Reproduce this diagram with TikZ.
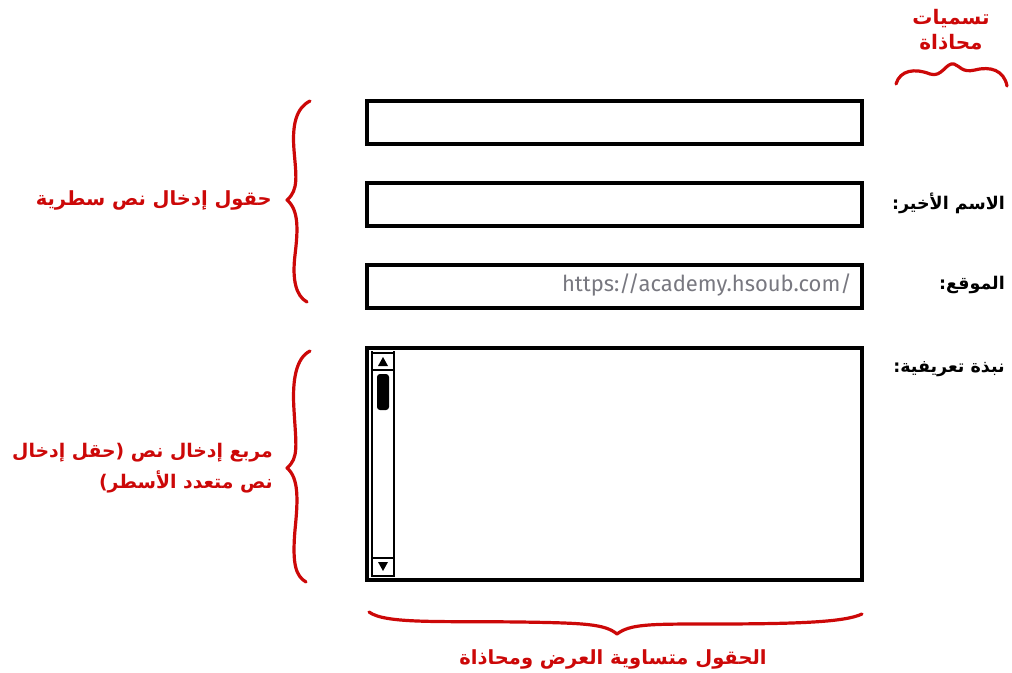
\documentclass[tikz,border=0pt]{standalone}
\usepackage{fontspec}
\setmainfont{DejaVu Sans}
\newfontfamily\ar[Script=Arabic]{DejaVu Sans}
\newfontfamily\urlfont{Fira Sans}
\TeXXeTstate=1
\definecolor{redc}{RGB}{204,8,8}
\definecolor{urlgray}{RGB}{120,120,128}
\tikzset{
  field/.style={draw=black, line width=3.2pt, rectangle, minimum width=495pt, minimum height=43pt, inner sep=0pt},
  lab/.style={anchor=east, text=black, font=\ar\bfseries\fontsize{17.5}{22}\selectfont, inner sep=0pt},
  redlab/.style={text=redc, font=\ar\bfseries\fontsize{19.5}{31}\selectfont, inner sep=0pt},
  brace/.style={draw=redc, line width=3.2pt, line cap=round, line join=round},
  sb/.style={draw=black, line width=1.6pt}
}
\begin{document}
\begin{tikzpicture}[x=1pt,y=-1pt]
\useasboundingbox (0,0) rectangle (1012,672);
% fields
\node[field] (first) at (614.5,122.5) {};
\node[field] (last) at (614.5,204.5) {};
\node[field] (site) at (614.5,286.5) {};
\node[field, minimum height=232pt] (bio) at (614.5,464) {};
% url placeholder
\node[anchor=east, text=urlgray, font=\urlfont\fontsize{22}{24}\selectfont, inner sep=0pt] (url) at (852,285) {https://academy.hsoub.com/};
% scrollbar
\draw[sb] (372,351) -- (372,577);
\draw[sb] (394,351) -- (394,577);
\draw[sb] (372,353) rectangle (394,370);
\draw[sb] (372,558) rectangle (394,576);
\fill (378,366) -- (388,366) -- (383,357) -- cycle;
\fill (378,562) -- (388,562) -- (383,571) -- cycle;
\fill[rounded corners=3pt] (377,374) rectangle (389,410);
% black labels
\node[lab] (llast) at (1005,203) {\beginR الاسم الأخير:\endR};
\node[lab] (lsite) at (1005,285) {\beginR الموقع:\endR};
\node[lab] (lbio) at (1005,369) {\beginR نبذة تعريفية:\endR};
% top right header
\node[redlab, align=center, font=\ar\bfseries\fontsize{20}{25}\selectfont] (hdr) at (951,30) {\beginR تسميات\endR\\\beginR محاذاة\endR};
\draw[brace] (896,84) .. controls (900,70) and (915,68) .. (930,74) .. controls (942,78) and (946,62) .. (954,64) .. controls (960,66) and (962,73) .. (975,70) .. controls (990,66) and (1004,70) .. (1007,86);
% left brace 1
\draw[brace] (310,101) .. controls (296,108) and (292,125) .. (294,150) .. controls (296,175) and (299,190) .. (287,200) .. controls (299,210) and (298,230) .. (295,255) .. controls (292,280) and (296,296) .. (307,302);
\node[redlab, anchor=east] (lab1) at (272,200) {\beginR حقول إدخال نص سطرية\endR};
% left brace 2
\draw[brace] (310,351) .. controls (296,358) and (292,380) .. (294,410) .. controls (296,445) and (299,458) .. (287,468) .. controls (299,478) and (298,500) .. (295,530) .. controls (292,565) and (296,576) .. (306,582);
\node[redlab, anchor=east, align=right, font=\ar\bfseries\fontsize{18.8}{31}\selectfont] (lab2) at (273,468) {\beginR مربع إدخال نص (حقل إدخال\endR\\\beginR نص متعدد الأسطر)\endR};
% bottom brace
\draw[brace] (369,612) .. controls (385,624) and (440,621) .. (520,622) .. controls (585,623) and (605,624) .. (617,634) .. controls (630,624) and (650,624) .. (710,624) .. controls (800,624) and (845,622) .. (862,614);
\node[redlab] (lab3) at (613,659) {\beginR الحقول متساوية العرض ومحاذاة\endR};
\end{tikzpicture}
\end{document}
